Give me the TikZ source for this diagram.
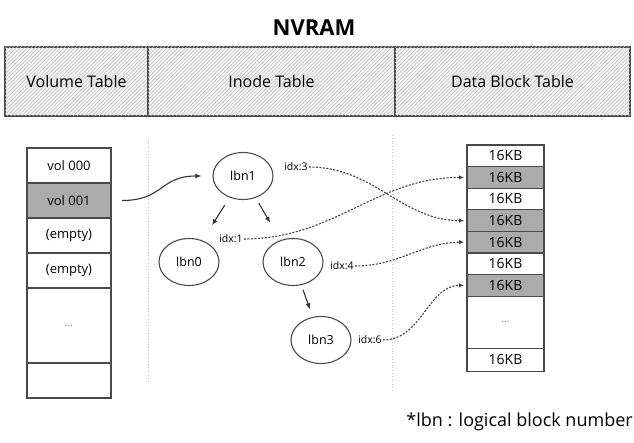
\documentclass[tikz,border=0pt]{standalone}
\usepackage{fontspec}
\setmainfont{Open Sans}
\usetikzlibrary{arrows.meta,positioning,patterns.meta,shapes.geometric}
\definecolor{cellgray}{HTML}{ABABAB}
\definecolor{linegray}{HTML}{4A4A4A}
\tikzset{
	hatched/.style={draw=linegray,line width=1.2pt,fill=gray!12,postaction={pattern={Lines[angle=45,distance=2.6pt,line width=0.5pt]},pattern color=gray!45},minimum height=69pt,outer sep=0pt,font=\fontsize{16}{19}\selectfont},
	cell/.style={draw=linegray,line width=1.2pt,rectangle,minimum width=84pt,minimum height=35pt,outer sep=0pt,font=\fontsize{13}{15}\selectfont},
	used/.style={fill=cellgray},
	block/.style={draw=linegray,line width=1.2pt,rectangle,minimum width=77pt,minimum height=21.6pt,inner sep=0pt,outer sep=0pt,font=\fontsize{14}{16}\selectfont},
	dots/.style={font=\fontsize{10}{12}\selectfont,text=gray},
	inode/.style={draw=linegray,line width=1.1pt,ellipse,minimum width=60pt,minimum height=47pt,inner sep=0pt,font=\fontsize{12.5}{14}\selectfont},
	idx/.style={inner sep=1pt,font=\fontsize{10.5}{12}\selectfont},
	tree/.style={-{Latex[length=6pt,width=5pt]},line width=1.1pt,draw=black!80},
	ptr/.style={-{Latex[length=5pt,width=4.5pt]},line width=1.1pt,draw=black!75,dash pattern=on 2pt off 1.5pt,shorten >=3pt},
	sep/.style={gray!45,dotted,line width=0.8pt}
}
\begin{document}
\begin{tikzpicture}[x=1pt,y=-1pt]
	\useasboundingbox (0,0) rectangle (634,443);
	\node[font=\fontsize{22}{26}\selectfont\bfseries] (nvram) at (314,28) {NVRAM};
	\node[hatched,minimum width=143pt] (vtab) at (76.5,81.5) {Volume Table};
	\node[hatched,minimum width=247pt] (itab) at (271.5,81.5) {Inode Table};
	\node[hatched,minimum width=235pt] (dtab) at (512.5,81.5) {Data Block Table};
	
	\draw[sep] (148,140) -- (148,383);
	\draw[sep] (392,135) -- (392,390);
	
	% volume table
	\node[cell] (vol0) at (69,165.5) {vol 000};
	\node[cell,used,below=0pt of vol0] (vol1) {vol 001};
	\node[cell,below=0pt of vol1] (vol2) {(empty)};
	\node[cell,below=0pt of vol2] (vol3) {(empty)};
	\node[cell,dots,minimum height=75pt,below=0pt of vol3] (vol4) {...};
	\node[cell,below=0pt of vol4] (vol5) {};
	
	% inode tree
	\node[inode] (lbn1) at (243,176) {lbn1};
	\node[inode] (lbn0) at (189,262) {lbn0};
	\node[inode] (lbn2) at (293,262) {lbn2};
	\node[inode] (lbn3) at (321,340) {lbn3};
	\node[idx] (idx3) at (296,167) {idx:3};
	\node[idx] (idx1) at (231,239) {idx:1};
	\node[idx] (idx4) at (342,266) {idx:4};
	\node[idx] (idx6) at (370,340) {idx:6};
	
	% data blocks
	\node[block] (blk1) at (505.5,155.8) {16KB};
	\node[block,used,below=0pt of blk1] (blk2) {16KB};
	\node[block,below=0pt of blk2] (blk3) {16KB};
	\node[block,used,below=0pt of blk3] (blk4) {16KB};
	\node[block,used,below=0pt of blk4] (blk5) {16KB};
	\node[block,below=0pt of blk5] (blk6) {16KB};
	\node[block,used,below=0pt of blk6] (blk7) {16KB};
	\node[block,dots,minimum height=52pt,below=0pt of blk7] (blk8) {...};
	\node[block,minimum height=23pt,below=0pt of blk8] (blk9) {16KB};
	
	\draw[tree,shorten <=11pt,shorten >=11pt] (vol1.east) to[out=0,in=180,looseness=1.3] (lbn1.west);
	\draw[tree,shorten <=9pt,shorten >=18pt] (lbn1) -- (lbn0);
	\draw[tree,shorten <=6pt,shorten >=20pt] (lbn1) -- (lbn2);
	\draw[tree,shorten <=5pt,shorten >=8pt] (lbn2) -- (lbn3);
	
	\draw[ptr] (idx3) to[out=0,in=180] (blk4.west);
	\draw[ptr] (idx1) to[out=0,in=180] (blk2.west);
	\draw[ptr] (idx4) to[out=0,in=180] (blk5.west);
	\draw[ptr] (idx6) to[out=0,in=180] (blk7.west);
	
	\node[anchor=east,inner sep=0pt,font=\fontsize{18}{21}\selectfont] (note) at (633,422) {*lbn : logical block number};
\end{tikzpicture}
\end{document}
